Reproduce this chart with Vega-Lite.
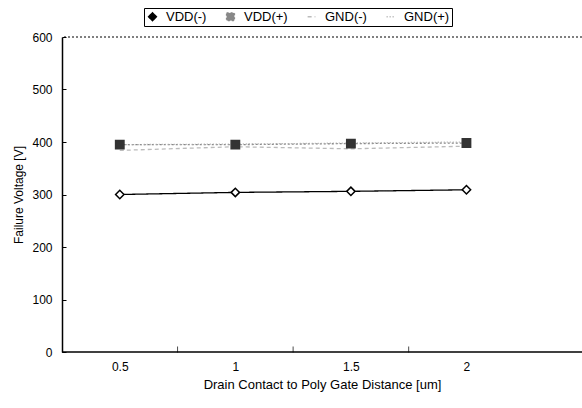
{
  "$schema": "https://vega.github.io/schema/vega-lite/v6.json",
  "width": 520,
  "height": 315,
  "autosize": {"type": "none"},
  "padding": {"left": 62, "top": 37, "right": 0, "bottom": 56},
  "background": "white",
  "config": {
    "view": {"stroke": null},
    "font": "Liberation Sans",
    "axis": {"grid": false, "domainColor": "black", "tickColor": "black", "labelColor": "black", "titleColor": "black", "labelFont": "Liberation Sans", "titleFont": "Liberation Sans", "titleFontWeight": "normal"}
  },
  "data": {
    "values": [
      {"series": "VDD(-)", "x": 0.5, "y": 300},
      {"series": "VDD(-)", "x": 1.0, "y": 304},
      {"series": "VDD(-)", "x": 1.5, "y": 306},
      {"series": "VDD(-)", "x": 2.0, "y": 309},
      {"series": "VDD(+)", "x": 0.5, "y": 395},
      {"series": "VDD(+)", "x": 1.0, "y": 395},
      {"series": "VDD(+)", "x": 1.5, "y": 397},
      {"series": "VDD(+)", "x": 2.0, "y": 398},
      {"series": "GND(-)", "x": 0.5, "y": 384},
      {"series": "GND(-)", "x": 1.0, "y": 391},
      {"series": "GND(-)", "x": 1.5, "y": 387},
      {"series": "GND(-)", "x": 2.0, "y": 392},
      {"series": "GND(+)", "x": 0.5, "y": 395},
      {"series": "GND(+)", "x": 1.0, "y": 396},
      {"series": "GND(+)", "x": 1.5, "y": 398},
      {"series": "GND(+)", "x": 2.0, "y": 400}
    ]
  },
  "layer": [
    {
      "mark": {"type": "line", "strokeWidth": 1.3},
      "encoding": {
        "x": {"field": "x", "type": "quantitative", "scale": {"domain": [0.25, 2.5], "nice": false, "zero": false},
          "axis": {"values": [0.5, 1, 1.5, 2], "format": ".1~f", "tickSize": 0, "domain": false, "labelFontSize": 12, "labelPadding": 9, "title": "Drain Contact to Poly Gate Distance [um]", "titleFontSize": 13, "titlePadding": 6, "titleColor": "black"}},
        "y": {"field": "y", "type": "quantitative", "scale": {"domain": [0, 600], "nice": false},
          "axis": {"values": [0, 100, 200, 300, 400, 500, 600], "tickSize": -4, "labelFontSize": 12, "labelPadding": 14, "title": "Failure Voltage [V]", "titleFontSize": 12, "titlePadding": 6, "domainWidth": 1.5, "titleColor": "black"}},
        "color": {"field": "series", "type": "nominal",
          "scale": {"domain": ["VDD(-)", "VDD(+)", "GND(-)", "GND(+)"], "range": ["#000000", "#888888", "#bbbbbb", "#aaaaaa"]},
          "legend": {"orient": "none", "legendX": 82, "legendY": -29, "direction": "horizontal", "columns": 4, "title": null, "strokeColor": "black", "padding": 2, "labelFontSize": 13, "labelFont": "Liberation Sans", "labelColor": "black", "symbolSize": 60, "symbolStrokeWidth": 1.5, "columnPadding": 16, "labelOffset": 7}},
        "shape": {"field": "series", "type": "nominal", "scale": {"domain": ["VDD(-)", "VDD(+)", "GND(-)", "GND(+)"], "range": ["diamond", "square", "stroke", "stroke"]}},
        "strokeDash": {"field": "series", "type": "nominal", "scale": {"domain": ["VDD(-)", "VDD(+)", "GND(-)", "GND(+)"], "range": [[1, 0], [2, 2], [4, 3], [1, 2]]}}
      }
    },
    {
      "transform": [{"filter": "datum.series === 'VDD(-)' || datum.series === 'VDD(+)'"}],
      "mark": {"type": "point", "filled": false, "size": 70, "strokeWidth": 1.5, "opacity": 1},
      "encoding": {
        "x": {"field": "x", "type": "quantitative"},
        "y": {"field": "y", "type": "quantitative"},
        "shape": {"field": "series", "type": "nominal", "legend": null},
        "fill": {"field": "series", "type": "nominal", "scale": {"domain": ["VDD(-)", "VDD(+)"], "range": ["white", "#333333"]}, "legend": null},
        "stroke": {"field": "series", "type": "nominal", "scale": {"domain": ["VDD(-)", "VDD(+)"], "range": ["black", "#333333"]}, "legend": null}
      }
    },
    {
      "mark": {"type": "rule", "strokeDash": [2, 2], "color": "black", "strokeWidth": 1},
      "data": {"values": [{"y": 600}]},
      "encoding": {"y": {"field": "y", "type": "quantitative"}}
    },
    {
      "mark": {"type": "rule", "color": "black", "strokeWidth": 1.5},
      "data": {"values": [{"y": 0}]},
      "encoding": {"y": {"field": "y", "type": "quantitative"}}
    },
    {
      "mark": {"type": "tick", "orient": "vertical", "color": "black", "size": 6, "thickness": 1},
      "data": {"values": [{"t": 0.75}, {"t": 1.25}, {"t": 1.75}]},
      "encoding": {"x": {"field": "t", "type": "quantitative"}, "y": {"datum": 5}}
    }
  ]
}
